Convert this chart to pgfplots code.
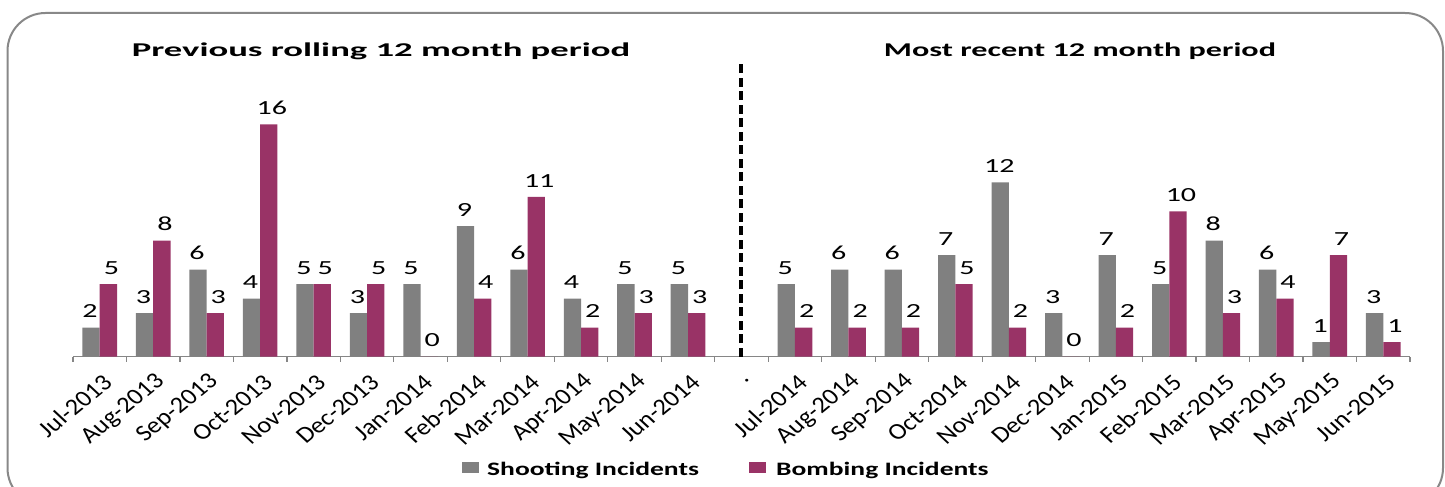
\documentclass[border=0pt]{standalone}
\usepackage{fontspec}
\setmainfont{Carlito}
\newfontfamily\labfont[FakeStretch=1.5]{Carlito}
\newfontfamily\subfont[FakeStretch=1.65]{Carlito}
\newfontfamily\legfont[FakeStretch=1.45]{Carlito}
\usepackage{pgfplots}
\usepackage{pgfplotstable}
\pgfplotsset{compat=1.18}
\definecolor{shoot}{HTML}{808080}
\definecolor{bomb}{HTML}{993366}
\definecolor{axgray}{HTML}{868686}
\definecolor{framegray}{HTML}{888888}
\pgfplotstableread{
x  shoot bomb
0  2  5
1  3  8
2  6  3
3  4  16
4  5  5
5  3  5
6  5  0
7  9  4
8  6  11
9  4  2
10 5  3
11 5  3
13 5  2
14 6  2
15 6  2
16 7  5
17 12 2
18 3  0
19 7  2
20 5  10
21 8  3
22 6  4
23 1  7
24 3  1
}\datatable
\begin{document}
\begin{tikzpicture}
\useasboundingbox (0pt,0pt) rectangle (1445pt,487pt);
% frame
\draw[framegray, line width=2pt, rounded corners=38pt]
  (7.5pt,-19pt) rectangle (1443pt,474pt);
% subtitles
\node[anchor=base, inner sep=0pt, xscale=1.14] at (381pt,430.3pt) {\subfont\bfseries\fontsize{19.5}{22}\selectfont Previous rolling 12 month period};
\node[anchor=base, inner sep=0pt] at (1080pt,430.3pt) {\subfont\bfseries\fontsize{19.5}{22}\selectfont Most recent 12 month period};
% legend
\fill[shoot] (462pt,13.7pt) rectangle (479pt,25.3pt);
\node[anchor=base west, inner sep=0pt] at (487pt,11pt) {\legfont\bfseries\fontsize{19}{22}\selectfont Shooting Incidents};
\fill[bomb] (749pt,13.7pt) rectangle (766pt,25.3pt);
\node[anchor=base west, inner sep=0pt] at (776pt,11pt) {\legfont\bfseries\fontsize{19}{22}\selectfont Bombing Incidents};
\begin{axis}[
  at={(73pt,130.3pt)}, anchor=south west,
  scale only axis, width=1337pt, height=290.4pt,
  xmin=-0.5, xmax=24.5, ymin=0, ymax=20,
  enlargelimits=false, clip=false,
  axis x line=bottom, axis y line=none,
  x axis line style={-, draw=axgray, line width=1.5pt},
  xtick={0,...,24},
  xticklabels={Jul-2013,Aug-2013,Sep-2013,Oct-2013,Nov-2013,Dec-2013,Jan-2014,Feb-2014,Mar-2014,Apr-2014,May-2014,Jun-2014,.,Jul-2014,Aug-2014,Sep-2014,Oct-2014,Nov-2014,Dec-2014,Jan-2015,Feb-2015,Mar-2015,Apr-2015,May-2015,Jun-2015},
  major tick length=0pt,
  minor xtick={-0.5,0.5,...,24.5},
  minor tick length=5pt, tick align=outside,
  minor tick style={axgray, line width=1.2pt},
  xticklabel style={font=\fontsize{23}{25}\selectfont, xshift=8pt, yshift=-22pt, xscale=1.15, rotate=43, anchor=east, inner sep=0pt},
  ytick=\empty,
  /pgf/number format/assume math mode=true,
]
\addplot[ybar, fill=shoot, draw=none, bar width=17.3pt, bar shift=0pt,
  nodes near coords, nodes near coords style={font=\labfont\fontsize{20}{20}\selectfont, anchor=south, inner sep=0pt, yshift=9.5pt, xshift=-1pt, black}]
  table[x expr=\thisrow{x}-0.1617, y=shoot] {\datatable};
\addplot[ybar, fill=bomb, draw=none, bar width=17.3pt, bar shift=0pt,
  nodes near coords, nodes near coords style={font=\labfont\fontsize{20}{20}\selectfont, anchor=south, inner sep=0pt, yshift=9.5pt, xshift=3pt, black}]
  table[x expr=\thisrow{x}+0.1617, y=bomb] {\datatable};
\addplot[black, line width=4pt, dash pattern=on 9pt off 4.5pt, forget plot] coordinates {(12,0) (12,20.2)};
\end{axis}
\end{tikzpicture}
\end{document}
